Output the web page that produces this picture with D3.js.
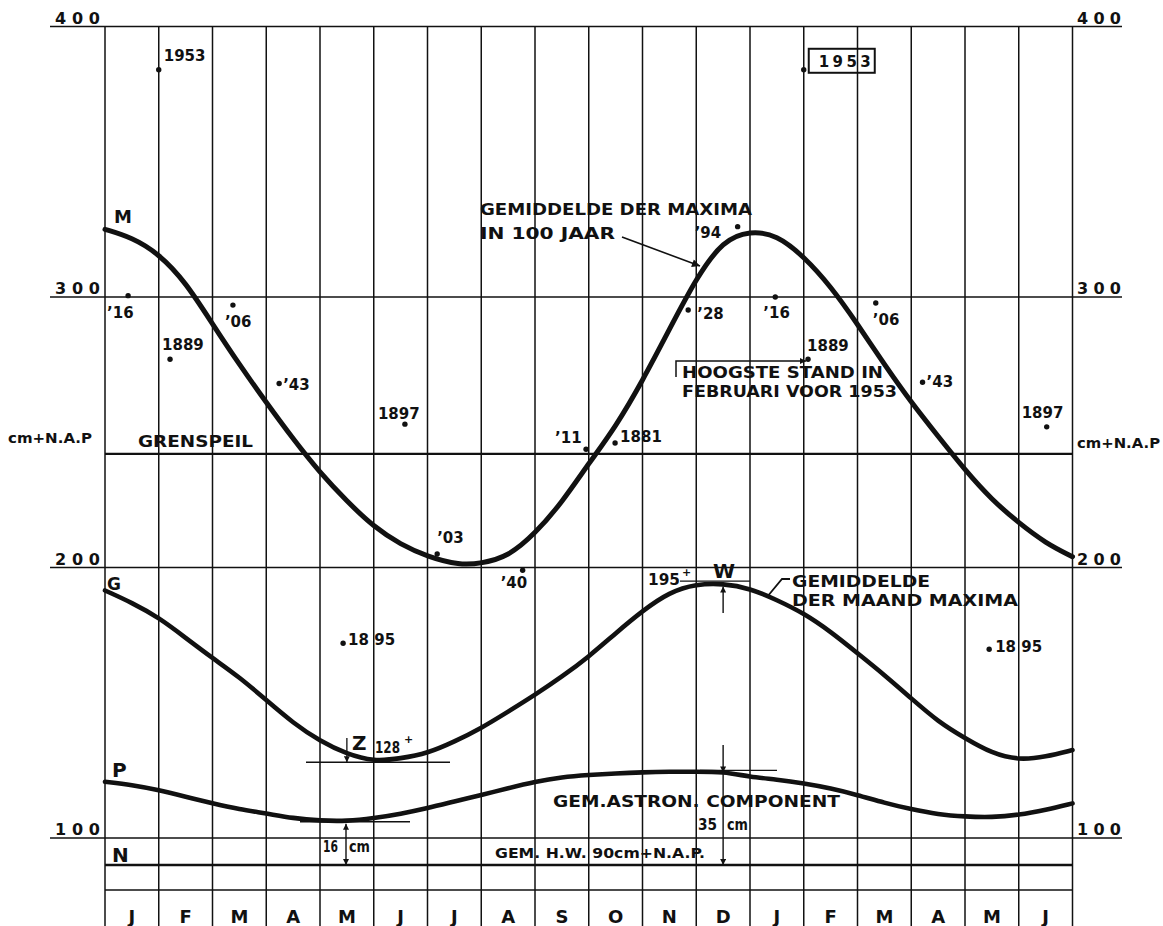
<!DOCTYPE html>
<html><head><meta charset="utf-8">
<script src="https://cdn.jsdelivr.net/npm/d3@7"></script>
<style>
body{margin:0;background:#fff;}
svg{display:block;font-family:"DejaVu Sans",sans-serif;font-weight:bold;}
</style></head><body>
<svg id="chart" width="1163" height="926"></svg>
<script>
// ---------- DATA ----------
const months = ["J","F","M","A","M","J","J","A","S","O","N","D","J","F","M","A","M","J"];
const yTicks = [100,200,300,400];
const grenspeil = 242;      // cm + N.A.P.
const gemHW = 90;           // gem. H.W.
const baseLevel = 80.8;

// M: gemiddelde der maxima in 100 jaar
const mT = [0,0.5,1,1.5,2,2.5,3,3.5,4,4.5,5,5.5,6,6.6,7,7.5,8,8.5,9,9.5,10,10.5,11,11.5,12,12.5,13,13.5,14,14.5,15,15.5,16,16.5,17,17.5,18];
const mV = [325,322,316,305.5,290,275,261,247.5,235,224.5,215,208.5,204,200.8,201.5,204,212.5,224,238.5,252,269,288,307,321,324.5,323,315,304,290,275,261,248.5,236,225,216.5,209,204];
// G: gemiddelde der maand maxima
const gT = [0,0.5,1,1.5,2,2.5,3,3.5,4,4.5,5,5.5,6,6.5,7,7.5,8,8.5,9,9.5,10,10.5,11,11.5,12,12.5,13,13.5,14,14.5,15,15.5,16,16.5,17,17.5,18];
const gV = [191.5,187,181.5,174,166.5,159.5,151,142.5,135.8,131,128.3,129.4,131.3,135.6,140.6,146.7,152.9,159.6,167,175.7,184,190.9,193.9,194.1,192.3,188,183.1,176.3,168.3,160.3,151.6,143,136.9,131.3,128.8,130,132.5];
// P: gem. astron. component
const pT = [0,0.5,1,1.5,2,2.5,3,3.5,4,4.5,5,5.5,6,6.5,7,7.5,8,8.5,9,9.5,10,10.5,11,11.5,12,12.5,13,13.5,14,14.5,15,15.5,16,16.5,17,17.5,18];
const pV = [120.8,119.6,117.7,115.3,112.8,110.6,109.1,107.3,106.4,106.2,107.3,108.9,111,113.5,115.9,118.4,120.8,122.5,123.3,123.9,124.3,124.5,124.5,124.5,122.6,121.6,120.2,118.4,115.9,113,110.6,108.7,107.9,107.6,108.5,110.4,112.8];
// Hoogste standen per maand
const ptT = [0.43,1.0,1.21,2.38,3.24,4.43,5.58,6.18,7.77,8.95,9.49,10.85,11.77,12.47,13.0,13.08,14.34,15.21,16.45,17.52];
const ptV = [300.5,384,277,297,268,172,253,205,199,243.7,246,295.2,326,300,384,277,297.8,268.5,169.8,252];
const ptLabel = ["’16","1953","1889","’06","’43","18 95","1897","’03","’40","’11","1881","’28","’94","’16","1953","1889","’06","’43","18 95","1897"];
// key levels used in dimension marks
const zLevel = 128, wLevel = 195, pMin = 106, pMax = 125;

// ---------- LAYOUT ----------
const svg = d3.select("#chart");
const x = d3.scaleLinear().domain([0,18]).range([105,1072.5]);
const y = d3.scaleLinear().domain([100,400]).range([838,26.5]);
const ink = "#111";

const defs = svg.append("defs");
function marker(id,w,h){
  defs.append("marker").attr("id",id).attr("viewBox","0 0 10 10")
    .attr("refX",10).attr("refY",5).attr("markerWidth",w).attr("markerHeight",h)
    .attr("markerUnits","userSpaceOnUse").attr("orient","auto-start-reverse")
    .append("path").attr("d","M0,0 L10,5 L0,10 z").attr("fill",ink);
}
marker("arr",8,6); marker("arrBig",13,8);

// vertical month lines
svg.append("g").selectAll("line").data(d3.range(19)).join("line")
  .attr("x1",d=>x(d)).attr("x2",d=>x(d)).attr("y1",y(400)).attr("y2",926)
  .attr("stroke",ink).attr("stroke-width",1.5);

// major horizontal lines
svg.append("g").selectAll("line").data(yTicks).join("line")
  .attr("x1",50).attr("x2",1122).attr("y1",d=>y(d)).attr("y2",d=>y(d))
  .attr("stroke",ink).attr("stroke-width",1.7);
// other horizontals
[[grenspeil,2.3],[gemHW,2.5],[baseLevel,1.5]].forEach(([v,w])=>{
  svg.append("line").attr("x1",x(0)).attr("x2",x(18)).attr("y1",y(v)).attr("y2",y(v))
    .attr("stroke",ink).attr("stroke-width",w);
});

// y labels
const yl = svg.append("g").attr("font-size",16).attr("fill",ink);
yl.selectAll("text.l").data(yTicks).join("text").attr("class","l")
  .attr("x",55).attr("y",d=>y(d)-3).attr("textLength",45).attr("lengthAdjust","spacing").text(d=>d);
yl.selectAll("text.r").data(yTicks).join("text").attr("class","r")
  .attr("x",1077).attr("y",d=>y(d)-3).attr("textLength",44).attr("lengthAdjust","spacing").text(d=>d);

// month axis
const band = d3.scaleBand().domain(d3.range(18)).range([x(0),x(18)]);
const ax = svg.append("g").call(d3.axisBottom(band).tickSize(0).tickFormat(i=>months[i]));
ax.select(".domain").remove();
ax.selectAll("text").attr("y",923).attr("dy",null).attr("font-size",18)
  .attr("font-family","DejaVu Sans").attr("font-weight","bold").attr("fill",ink);

// curves
const line = d3.line().x(d=>x(d[0])).y(d=>y(d[1])).curve(d3.curveBasis);
[[mT,mV,5],[gT,gV,4.6],[pT,pV,4.6]].forEach(([t,v,w])=>{
  svg.append("path").attr("d",line(t.map((d,i)=>[d,v[i]])))
    .attr("fill","none").attr("stroke",ink).attr("stroke-width",w).attr("stroke-linecap","round");
});

// points
const off = [[-21,22],[5,-9],[-8,-9],[-8,22],[4,6],[5,2],[-27,-5],[0,-11],[-22,18],[-31,-6],[5,-1],[9,9],[-43,11],[-12,21],[15,-3],[-1,-8],[-3,22],[4,5],[6,3],[-25,-9]];
const pts = svg.append("g");
ptT.forEach((t,i)=>{
  const cx=x(t), cy=y(ptV[i]);
  pts.append("circle").attr("cx",cx).attr("cy",cy).attr("r",2.7).attr("fill",ink);
  const tx = pts.append("text").attr("x",cx+off[i][0]).attr("y",cy+off[i][1])
    .attr("font-size",15).attr("fill",ink).text(ptLabel[i]);
  if(i===14){
    tx.attr("x",cx+15).attr("y",cy-3).attr("textLength",52).attr("lengthAdjust","spacing");
    pts.append("rect").attr("x",cx+5).attr("y",cy-21).attr("width",66).attr("height",24)
      .attr("fill","none").attr("stroke",ink).attr("stroke-width",2);
  }
});

// annotations
const ann = [
 ["GEMIDDELDE DER MAXIMA",480,215,16,272],
 ["IN  100 JAAR",480,239,16,135],
 ["HOOGSTE STAND IN",682,378,16,201],
 ["FEBRUARI VOOR 1953",682,397,16,215],
 ["GRENSPEIL",138,447,15,115],
 ["cm+N.A.P",8,443,14,84],
 ["cm+N.A.P",1077,448,14,83],
 ["GEMIDDELDE",792,587,16,138],
 ["DER  MAAND MAXIMA",792,606,16,226],
 ["GEM.ASTRON. COMPONENT",553,807,16,287],
 ["35",698,830,15,19],
 ["cm",727,830,15,21],
 ["GEM. H.W.  90cm+N.A.P.",495,858,14,210],
 ["16",323,852,15,15],
 ["cm",349,852,15,21],
 ["128",375,753,15,25],
 ["195",648,585,15,32],
];
const ag = svg.append("g").attr("fill",ink);
ann.forEach(([t,ax_,ay,s,len])=>{
  ag.append("text").attr("x",ax_).attr("y",ay).attr("font-size",s)
    .attr("textLength",len).attr("lengthAdjust","spacingAndGlyphs").text(t);
});
[["+",404,743,11],["+",682,576,11],["M",114,223,18],["G",107,590,17],["P",112,777,20],["N",112,862,20],["Z",352,750,20],["W",713,578,20]]
  .forEach(([t,ax_,ay,s])=>ag.append("text").attr("x",ax_).attr("y",ay).attr("font-size",s).text(t));

// dimension / leader lines
const dl = svg.append("g").attr("stroke",ink).attr("fill","none");
dl.append("line").attr("x1",306).attr("x2",450).attr("y1",y(zLevel)).attr("y2",y(zLevel)).attr("stroke-width",1.3);
dl.append("line").attr("x1",300).attr("x2",410).attr("y1",y(pMin)).attr("y2",y(pMin)).attr("stroke-width",1.3);
dl.append("line").attr("x1",680).attr("x2",750).attr("y1",y(wLevel)).attr("y2",y(wLevel)).attr("stroke-width",1.3);
dl.append("line").attr("x1",700).attr("x2",777).attr("y1",y(pMax)).attr("y2",y(pMax)).attr("stroke-width",1.3);
// Z arrow
dl.append("line").attr("x1",x(4.5)).attr("x2",x(4.5)).attr("y1",738).attr("y2",y(zLevel)).attr("stroke-width",1.3).attr("marker-end","url(#arr)");
// 16 cm
dl.append("line").attr("x1",346).attr("x2",346).attr("y1",y(pMin)+2).attr("y2",y(gemHW)).attr("stroke-width",1.4)
  .attr("marker-start","url(#arr)").attr("marker-end","url(#arr)");
// W arrow
dl.append("line").attr("x1",x(11.5)).attr("x2",x(11.5)).attr("y1",613).attr("y2",y(194.1)+3).attr("stroke-width",1.4).attr("marker-end","url(#arr)");
// 35 cm
dl.append("line").attr("x1",x(11.5)).attr("x2",x(11.5)).attr("y1",745).attr("y2",y(pMax)+2).attr("stroke-width",1.4).attr("marker-end","url(#arr)");
dl.append("line").attr("x1",x(11.5)).attr("x2",x(11.5)).attr("y1",y(pMax)).attr("y2",y(gemHW)).attr("stroke-width",1.4).attr("marker-end","url(#arr)");
// GEMIDDELDE DER MAXIMA arrow
dl.append("line").attr("x1",622).attr("y1",237).attr("x2",700).attr("y2",266).attr("stroke-width",1.6).attr("marker-end","url(#arrBig)");
// HOOGSTE arrow
dl.append("path").attr("d","M676,377 V361 H806").attr("stroke-width",1.5).attr("marker-end","url(#arr)");
// GEMIDDELDE (maand) leader
dl.append("path").attr("d","M767,597 L782,579 H790").attr("stroke-width",1.8);
</script></body></html>
